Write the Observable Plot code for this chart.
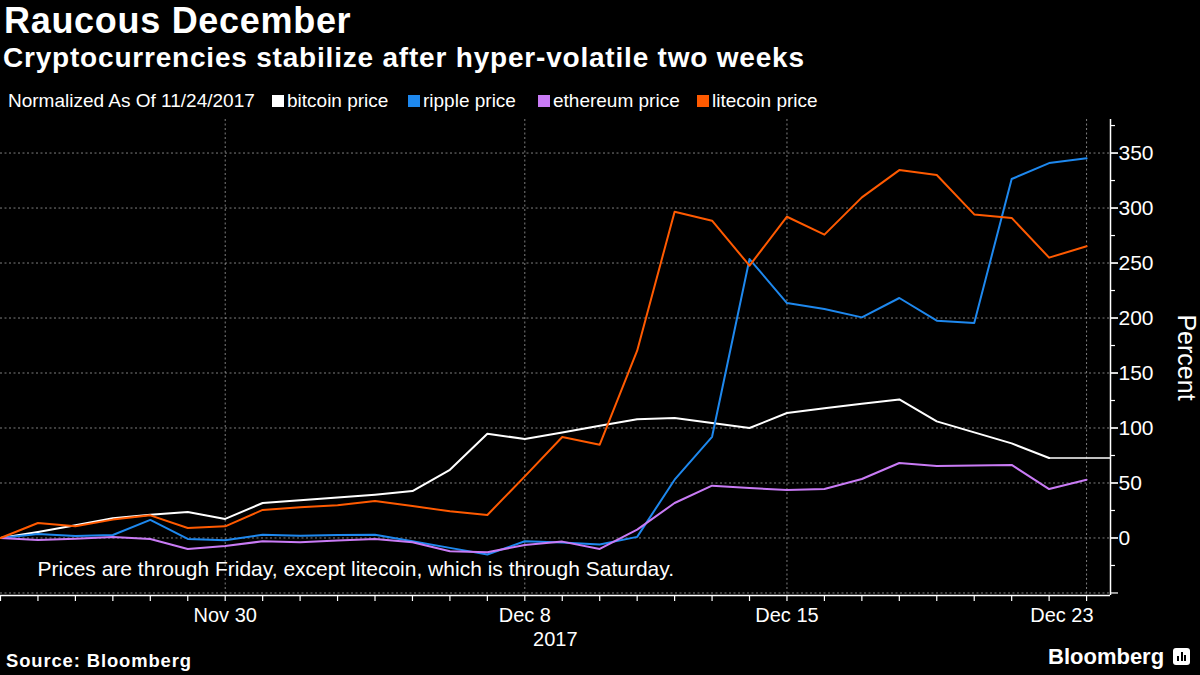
<!DOCTYPE html>
<html><head><meta charset="utf-8">
<script src="https://cdn.jsdelivr.net/npm/d3@7"></script>
<script src="https://cdn.jsdelivr.net/npm/@observablehq/plot@0.6"></script>
<style>
html,body{margin:0;padding:0;background:#000;width:1200px;height:675px;overflow:hidden;font-family:"Liberation Sans",Arial,sans-serif;color:#fff}
.abs{position:absolute;white-space:nowrap;line-height:1}
#title{left:4px;top:2.5px;font-size:36px;font-weight:bold;letter-spacing:0.7px}
#subtitle{left:3px;top:43.5px;font-size:28px;font-weight:bold;letter-spacing:0.8px}
.leg{top:91px;font-size:19px;display:flex;align-items:center}
.sw{display:inline-block;width:12px;height:12px;margin-right:3px;margin-top:1px}
#chart{position:absolute;left:0;top:112px}
#source{left:6px;top:652px;font-size:18.4px;font-weight:bold;letter-spacing:0.9px}
#logo{left:1048px;top:646px;font-size:22px;font-weight:bold;display:flex;align-items:flex-start}
#icon{display:inline-block;width:17px;height:17px;background:#fff;border-radius:3px;margin-left:9px;margin-top:2px;position:relative}
#icon i{position:absolute;bottom:4px;width:2px;background:#000}
svg{overflow:visible}
</style></head><body>
<div id="title" class="abs">Raucous December</div>
<div id="subtitle" class="abs">Cryptocurrencies stabilize after hyper-volatile two weeks</div>
<div id="legend"></div>
<div id="chart"></div>
<div id="source" class="abs">Source: Bloomberg</div>
<div id="logo" class="abs">Bloomberg<span id="icon"><i style="left:4px;height:5px"></i><i style="left:7.5px;height:9px"></i><i style="left:11px;height:6px"></i></span></div>
<script>
// ---- data ----
const dates = ["2017-11-24","2017-11-25","2017-11-26","2017-11-27","2017-11-28","2017-11-29","2017-11-30",
  "2017-12-01","2017-12-02","2017-12-03","2017-12-04","2017-12-05","2017-12-06","2017-12-07","2017-12-08",
  "2017-12-09","2017-12-10","2017-12-11","2017-12-12","2017-12-13","2017-12-14","2017-12-15","2017-12-16",
  "2017-12-17","2017-12-18","2017-12-19","2017-12-20","2017-12-21","2017-12-22","2017-12-23"];
const seriesNames = ["bitcoin price","ripple price","ethereum price","litecoin price"];
const bitcoin = [0,5.5,11.5,17.9,21.2,23.6,17.3,31.8,34.2,36.7,39.4,42.7,62,94.8,90,96,102,108,109,104.5,100,113.6,118,122,126,106,96,86,72.7];
const ripple = [0,3.6,1.8,2.7,16.4,-0.9,-2.1,3,2.1,2.7,3,-3,-9,-15,-3,-4,-6,1,53,92,253.6,213.6,208.2,200.6,218.2,197.6,195.5,326.4,340.9,345.2];
const ethereum = [0,-1.8,-0.6,0.9,-0.9,-10,-7.3,-3,-3.9,-2.4,-0.9,-3.9,-12,-13,-6.4,-3.3,-10,7.6,31.8,47.6,45.5,43.6,44.5,53.6,68.2,65.4,66,66.4,44.5,53];
const litecoin = [0,13.6,10.6,16.7,20.6,9.1,10.6,25.5,27.9,29.7,33.6,29.1,24.2,20.9,56,91.8,84.8,170.3,296.7,288.5,247.6,292.1,275.8,309.7,334.5,330,294.2,291,254.9,265.2];
const yGridTicks = [-50,0,50,100,150,200,250,300,350];
const yLabelTicks = [0,50,100,150,200,250,300,350];
const yMinorTicks = [-25,25,75,125,175,225,275,325,375];
const xLabelDates = ["2017-11-30","2017-12-08","2017-12-15"];
const xLabels = ["Nov 30","Dec 8","Dec 15"];
const xLastLabelDate = "2017-12-23";
const xLastLabel = "Dec 23";
const yearLabel = "2017";
const yearLabelDate = "2017-12-09";
const legendTitle = "Normalized As Of 11/24/2017";
const noteText = "Prices are through Friday, except litecoin, which is through Saturday.";
const yLabel = "Percent";

// ---- styles ----
const colors = ["#ffffff","#1e88ee","#c97bf5","#ff5a00"];
const legendLefts = [272,408,538,697];

const parse = d3.utcParse("%Y-%m-%d");
const X = dates.map(parse);
const allSeries = [bitcoin, ripple, ethereum, litecoin];
const rows = allSeries.flatMap((vals, k) => vals.map((v, i) => ({date: X[i], value: v, series: seriesNames[k]})));
const xStart = X[0];
const xEnd = new Date(Date.UTC(2017, 11, 23, 15, 20));
const yMin = -52.3, yMax = 380.5;
const lastBtcIdx = bitcoin.length - 1;

// legend
const leg = document.getElementById("legend");
const lt = document.createElement("div");
lt.className = "abs leg"; lt.style.left = "8px"; lt.textContent = legendTitle;
leg.appendChild(lt);
seriesNames.forEach((n, k) => {
  const d = document.createElement("div");
  d.className = "abs leg"; d.style.left = legendLefts[k] + "px";
  d.innerHTML = `<span class="sw" style="background:${colors[k]}"></span><span>${n}</span>`;
  leg.appendChild(d);
});

const grid = {stroke: "#8c8c8c", strokeDasharray: "2,2.5", strokeWidth: 1, strokeOpacity: 0.9};

const chart = Plot.plot({
  width: 1200, height: 531,
  marginTop: 7, marginBottom: 48, marginLeft: 0, marginRight: 90,
  style: {background: "transparent", color: "#fff", fontFamily: "'Liberation Sans', Arial, sans-serif"},
  x: {type: "utc", domain: [xStart, xEnd]},
  y: {domain: [yMin, yMax]},
  color: {domain: seriesNames, range: colors},
  marks: [
    Plot.ruleY(yGridTicks, {...grid}),
    Plot.ruleX(xLabelDates.concat([xLastLabelDate]).map(parse), {...grid}),
    Plot.line(rows, {x: "date", y: "value", z: "series", stroke: "series", strokeWidth: 2}),
    Plot.ruleY([bitcoin[lastBtcIdx]], {x1: X[lastBtcIdx], x2: xEnd, stroke: colors[0], strokeWidth: 1.3}),
    Plot.ruleY([yMin], {stroke: "#fff", strokeWidth: 1.5}),
    Plot.ruleX([xEnd], {stroke: "#fff", strokeWidth: 1.5}),
    Plot.axisX(X, {tickSize: 6, tickFormat: () => "", stroke: "#fff", strokeWidth: 1.2}),
    Plot.text(xLabelDates.map(parse), {x: d => d, y: yMin, dy: 20, text: (d, i) => xLabels[i], fill: "#fff", fontSize: 20, textAnchor: "middle"}),
    Plot.text([parse(xLastLabelDate)], {x: d => d, y: yMin, dy: 20, text: () => xLastLabel, fill: "#fff", fontSize: 20, textAnchor: "end", dx: 7}),
    Plot.text([parse(yearLabelDate)], {x: d => d, y: yMin, dy: 44, text: () => yearLabel, fill: "#fff", fontSize: 20, textAnchor: "middle", dx: -7}),
    Plot.axisY({anchor: "right", ticks: yGridTicks, tickSize: 7, tickFormat: () => "", stroke: "#fff", strokeWidth: 1.2, label: null}),
    Plot.axisY({anchor: "right", ticks: yLabelTicks, tickSize: 7, tickPadding: 1, fontSize: 21, stroke: "#fff", strokeWidth: 1.2, fill: "#fff", label: null}),
    Plot.axisY({anchor: "right", ticks: yMinorTicks, tickSize: 4, tickFormat: () => "", stroke: "#fff", strokeWidth: 1.2, label: null}),
    Plot.text([yLabel], {frameAnchor: "right", dx: 75, rotate: 90, textAnchor: "middle", fontSize: 25, fill: "#fff", text: d => d}),
    Plot.text([noteText], {frameAnchor: "bottom-left", dx: 37, dy: -20, textAnchor: "start", fontSize: 21, fill: "#fff", text: d => d})
  ]
});
document.getElementById("chart").appendChild(chart);
</script>
</body></html>
